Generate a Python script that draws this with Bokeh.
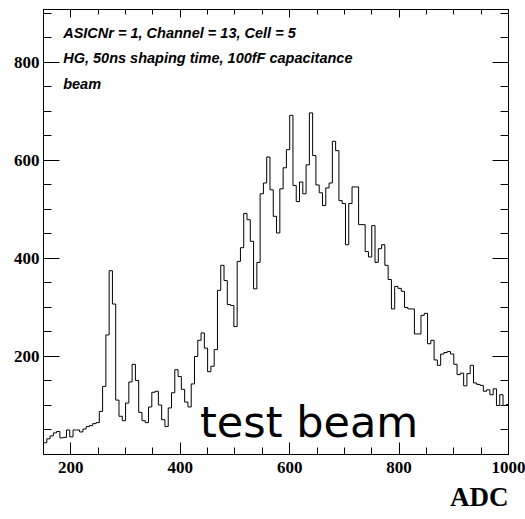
import numpy as np
from bokeh.plotting import figure
from bokeh.models import Range1d, FixedTicker, LinearAxis, Label, Title
from bokeh.embed import file_html
from bokeh.resources import INLINE

# ---- data ----
bin_start = 150
bin_width = 6
counts = [
    24, 32, 38, 44, 47, 34, 35, 50, 36, 50,
    50, 46, 52, 57, 59, 63, 65, 88, 139, 244,
    375, 307, 111, 78, 69, 105, 148, 184, 151, 86,
    69, 65, 97, 127, 129, 101, 71, 57, 95, 126,
    173, 159, 133, 107, 97, 144, 200, 233, 248, 217,
    169, 180, 214, 335, 386, 355, 306, 304, 261, 394,
    422, 492, 479, 435, 338, 392, 532, 554, 607, 540,
    486, 452, 542, 585, 622, 692, 549, 516, 556, 532,
    591, 697, 610, 550, 534, 508, 544, 554, 639, 620,
    518, 512, 428, 512, 546, 546, 469, 469, 414, 403,
    467, 392, 420,
    428, 386, 357, 297, 343, 339, 333, 300, 297, 297,
    246, 246, 284, 288, 226, 233, 193, 182, 205, 208,
    210, 205, 184, 163, 166, 140, 165, 182, 146, 143,
    141, 129, 132, 122, 134, 100, 122, 100, 102,
]
x_major = [200, 400, 600, 800, 1000]
x_minor = [250, 300, 350, 450, 500, 550, 650, 700, 750, 850, 900, 950]
y_major = [200, 400, 600, 800]
y_minor = [50, 100, 150, 250, 300, 350, 450, 500, 550, 650, 700, 750, 850, 900]
info_lines = ["ASICNr = 1, Channel = 13, Cell = 5",
              "HG, 50ns shaping time, 100fF capacitance",
              "beam"]
x_title = "ADC"
overlay_text = "test beam"

edges = bin_start + bin_width * np.arange(len(counts) + 1)
xs = np.repeat(edges, 2)[1:-1]
ys = np.repeat(np.array(counts, dtype=float), 2)

p = figure(width=525, height=519,
           x_range=Range1d(150, 1000), y_range=Range1d(0, 908),
           output_backend="svg", toolbar_location=None,
           min_border_left=43, min_border_right=17,
           min_border_top=9, min_border_bottom=65,
           x_axis_type=None, y_axis_type=None)
p.grid.visible = False
p.outline_line_color = "black"
p.outline_line_width = 1
p.background_fill_color = "white"
p.border_fill_color = "white"

p.line(xs, ys, line_color="black", line_width=1)

serif = "Liberation Serif"

def make_axis(major, minor, tin, mtin, show_labels):
    ax = LinearAxis(ticker=FixedTicker(ticks=major, minor_ticks=minor))
    ax.major_tick_in = tin
    ax.major_tick_out = 0
    ax.minor_tick_in = mtin
    ax.minor_tick_out = 0
    ax.axis_line_color = "black"
    ax.major_tick_line_color = "black"
    ax.minor_tick_line_color = "black"
    if show_labels:
        ax.major_label_text_font = serif
        ax.major_label_text_font_style = "bold"
        ax.major_label_text_font_size = "17px"
        ax.major_label_text_color = "black"
    else:
        ax.major_label_text_font_size = "1px"
        ax.major_label_text_color = None
        ax.major_label_standoff = 0
    return ax

xb = make_axis(x_major, x_minor, 12, 7, True)
xb.major_label_standoff = 7
p.add_layout(xb, "below")
p.add_layout(make_axis(x_major, x_minor, 8, 5, False), "above")

yl = make_axis(y_major, y_minor, 16, 8, True)
yl.major_label_standoff = 4
p.add_layout(yl, "left")
p.add_layout(make_axis(y_major, y_minor, 16, 8, False), "right")

# axis title at the lower right, below the tick labels
p.add_layout(Title(text=x_title, align="right", text_font=serif,
                   text_font_style="bold", text_font_size="27px",
                   text_color="black", standoff=9), "below")

for i, t in enumerate(info_lines):
    p.add_layout(Label(x=186, y=861 - 52.5 * i, text=t,
                       text_font="Liberation Sans", text_font_style="bold italic",
                       text_font_size="14.5px", text_color="black",
                       text_baseline="alphabetic"))

p.add_layout(Label(x=436, y=66, text=overlay_text, text_font="DejaVu Sans",
                   text_font_size="43px", text_color="black",
                   text_baseline="alphabetic"))

open("out.html", "w").write(file_html(p, INLINE))
